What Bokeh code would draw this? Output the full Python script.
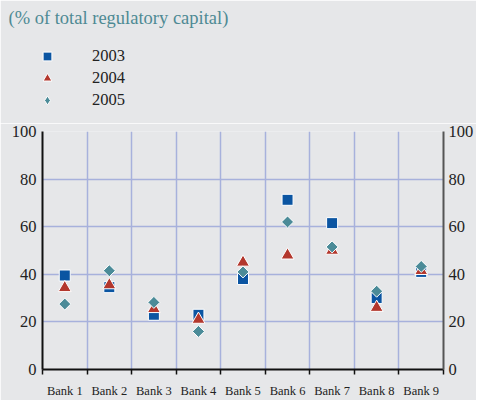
from bokeh.plotting import figure
from bokeh.layouts import column
from bokeh.models import FixedTicker, LinearAxis, Range1d, Legend, LegendItem
from bokeh.embed import file_html
from bokeh.resources import INLINE
import math

banks = ["Bank 1", "Bank 2", "Bank 3", "Bank 4", "Bank 5", "Bank 6", "Bank 7", "Bank 8", "Bank 9"]
y2003 = [39.5, 34.6, 23.0, 23.0, 38.0, 71.3, 61.5, 30.0, 41.0]
y2004 = [34.3, 35.5, 25.5, 21.0, 45.0, 48.0, 50.0, 26.0, 41.5]
y2005 = [27.5, 41.5, 28.2, 16.0, 41.0, 62.0, 51.5, 32.9, 43.3]
y_ticks = [0, 20, 40, 60, 80, 100]
series_names = ["2003", "2004", "2005"]
subtitle = "(% of total regulatory capital)"

BG = "#e6e7e9"
FONT = "Liberation Serif"
W = 476
HEAD_H = 123
MAIN_H = 277
BL, BR = 42, 31

COLORS = ["#0b55a2", "#b3372d", "#4b8b98"]
STYLES = [
    dict(marker="square", size=11, fill_color=COLORS[0], line_color="white", line_width=1),
    dict(marker="triangle", size=13, fill_color=COLORS[1], line_color="white", line_width=1),
    dict(marker="square", size=8.5, angle=math.pi / 4, fill_color=COLORS[2],
         line_color="white", line_width=1),
]
# legend glyphs are drawn unrotated, so the 2005 key uses the diamond marker
LEGEND_STYLES = [
    dict(marker="square", fill_color=COLORS[0], line_color="white", line_width=1),
    dict(marker="triangle", fill_color=COLORS[1], line_color="white", line_width=1),
    dict(marker="diamond", fill_color=COLORS[2], line_color="white", line_width=1),
]
x = [i + 0.5 for i in range(len(banks))]
series = [y2003, y2004, y2005]

# ---------------- header: subtitle + legend ----------------
head = figure(width=W, height=HEAD_H, output_backend="svg", toolbar_location=None,
              x_range=Range1d(0, len(banks)), y_range=Range1d(0, 100),
              x_axis_type=None, y_axis_type=None,
              min_border_left=BL, min_border_right=BR,
              min_border_top=0, min_border_bottom=0)
head.background_fill_color = BG
head.border_fill_color = BG
head.outline_line_color = BG
head.outline_line_width = 3
head.grid.visible = False
head.title.text = subtitle
head.title.align = "left"
head.title.offset = -34
head.title.text_font = FONT
head.title.text_font_size = "18.5px"
head.title.text_font_style = "normal"
head.title.text_color = "#4e8a94"

# legend glyph carriers (hidden copies of the series)
carriers = [head.scatter(x, ys, visible=False, **st) for ys, st in zip(series, LEGEND_STYLES)]
legend = Legend(items=[LegendItem(label=n, renderers=[r]) for n, r in zip(series_names, carriers)],
                location=(-6, 12), orientation="vertical",
                background_fill_alpha=0, border_line_color=None,
                inactive_fill_alpha=0,
                padding=0, margin=0, spacing=0,
                glyph_width=22, glyph_height=22, label_height=18,
                label_standoff=34,
                label_text_font=FONT, label_text_font_size="16.5px",
                label_text_color="#222222")
head.add_layout(legend, "center")

# ---------------- main chart ----------------
chart = figure(width=W, height=MAIN_H, output_backend="svg", toolbar_location=None,
               x_range=Range1d(0, len(banks)), y_range=Range1d(0, 100),
               min_border_left=BL, min_border_right=BR, min_border_top=8, min_border_bottom=29)
chart.background_fill_color = BG
chart.border_fill_color = BG
chart.outline_line_color = None

xa = chart.xaxis[0]
xa.ticker = FixedTicker(ticks=x, minor_ticks=list(range(len(banks) + 1)))
xa.major_label_overrides = {xi: b for xi, b in zip(x, banks)}
xa.major_tick_line_color = None
xa.major_tick_out = 0
xa.major_tick_in = 0
xa.minor_tick_in = 0
xa.minor_tick_out = 5
xa.minor_tick_line_color = "#111111"
xa.minor_tick_line_width = 1.5
xa.axis_line_color = "#111111"
xa.axis_line_width = 2
xa.major_label_text_font = FONT
xa.major_label_text_font_size = "12.5px"
xa.major_label_text_color = "#222222"
xa.major_label_standoff = 9

ya = chart.yaxis[0]
ya.ticker = FixedTicker(ticks=y_ticks)
ya.major_tick_line_color = None
ya.minor_tick_line_color = None
ya.major_tick_out = 0
ya.axis_line_color = "#111111"
ya.axis_line_width = 2
ya.major_label_text_font = FONT
ya.major_label_text_font_size = "16.5px"
ya.major_label_text_color = "#222222"
ya.major_label_standoff = 6

yr = LinearAxis(ticker=FixedTicker(ticks=y_ticks))
yr.major_tick_line_color = None
yr.minor_tick_line_color = None
yr.major_tick_out = 0
yr.axis_line_color = "#555555"
yr.axis_line_width = 2
yr.major_label_text_font = FONT
yr.major_label_text_font_size = "16.5px"
yr.major_label_text_color = "#222222"
yr.major_label_standoff = 5
chart.add_layout(yr, "right")

chart.xgrid.ticker = FixedTicker(ticks=list(range(1, len(banks))))
chart.ygrid.ticker = FixedTicker(ticks=y_ticks[1:])
for g in (chart.xgrid[0], chart.ygrid[0]):
    g.grid_line_color = "#a7b1dc"
    g.grid_line_width = 1.5

for ys, st in zip(series, STYLES):
    chart.scatter(x, ys, **st)

p = column(head, chart, spacing=0)
open("out.html", "w").write(file_html(p, INLINE))
